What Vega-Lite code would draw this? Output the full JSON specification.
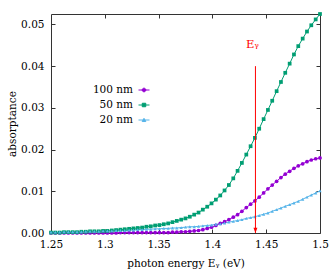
{
"$schema": "https://vega.github.io/schema/vega-lite/v6.json",
"width": 269, "height": 219,
"autosize": {"type": "none"},
"padding": {"left": 51, "top": 14, "right": 12, "bottom": 41},
"background": "white",
"config": {
  "font": "DejaVu Serif",
  "view": {"stroke": "#333", "strokeWidth": 1},
  "axis": {"grid": false, "domain": false, "tickColor": "#333", "tickWidth": 1, "tickSize": -4, "labelFont": "DejaVu Serif", "labelFontSize": 10.5, "labelColor": "#000", "labelFlush": false, "labelOverlap": false, "titleFont": "DejaVu Serif", "titleFontSize": 10.5, "titleFontWeight": "normal", "titleColor": "#000"},
  "legend": {"labelFont": "DejaVu Serif"}
},
"datasets": {
  "series": [
{"e":1.25,"s":"100 nm","a":0},{"e":1.254,"s":"100 nm","a":0},{"e":1.2581,"s":"100 nm","a":0},{"e":1.2621,"s":"100 nm","a":0},{"e":1.2661,"s":"100 nm","a":0},{"e":1.2702,"s":"100 nm","a":0},{"e":1.2742,"s":"100 nm","a":0},{"e":1.2782,"s":"100 nm","a":0},{"e":1.2823,"s":"100 nm","a":0},{"e":1.2863,"s":"100 nm","a":0},{"e":1.2903,"s":"100 nm","a":0},{"e":1.2944,"s":"100 nm","a":0},{"e":1.2984,"s":"100 nm","a":0},{"e":1.3024,"s":"100 nm","a":0},{"e":1.3065,"s":"100 nm","a":0},{"e":1.3105,"s":"100 nm","a":0},
{"e":1.3145,"s":"100 nm","a":0.0001},{"e":1.3185,"s":"100 nm","a":0.0001},{"e":1.3226,"s":"100 nm","a":0.0001},{"e":1.3266,"s":"100 nm","a":0.0001},{"e":1.3306,"s":"100 nm","a":0.0001},{"e":1.3347,"s":"100 nm","a":0.0001},{"e":1.3387,"s":"100 nm","a":0.0001},{"e":1.3427,"s":"100 nm","a":0.0001},{"e":1.3468,"s":"100 nm","a":0.0001},{"e":1.3508,"s":"100 nm","a":0.0001},{"e":1.3548,"s":"100 nm","a":0.0001},{"e":1.3589,"s":"100 nm","a":0.0001},
{"e":1.3629,"s":"100 nm","a":0.0002},{"e":1.3669,"s":"100 nm","a":0.0002},{"e":1.371,"s":"100 nm","a":0.0003},{"e":1.375,"s":"100 nm","a":0.0003},{"e":1.379,"s":"100 nm","a":0.0004},{"e":1.3831,"s":"100 nm","a":0.0005},{"e":1.3871,"s":"100 nm","a":0.0006},{"e":1.3911,"s":"100 nm","a":0.0008},{"e":1.3952,"s":"100 nm","a":0.0011},{"e":1.3992,"s":"100 nm","a":0.0014},{"e":1.4032,"s":"100 nm","a":0.0018},{"e":1.4073,"s":"100 nm","a":0.0023},{"e":1.4113,"s":"100 nm","a":0.0027},{"e":1.4153,"s":"100 nm","a":0.0032},{"e":1.4194,"s":"100 nm","a":0.0038},{"e":1.4234,"s":"100 nm","a":0.0044},{"e":1.4274,"s":"100 nm","a":0.0052},{"e":1.4315,"s":"100 nm","a":0.0061},{"e":1.4355,"s":"100 nm","a":0.0069},{"e":1.4395,"s":"100 nm","a":0.0077},{"e":1.4435,"s":"100 nm","a":0.0086},{"e":1.4476,"s":"100 nm","a":0.0096},{"e":1.4516,"s":"100 nm","a":0.0106},{"e":1.4556,"s":"100 nm","a":0.0115},{"e":1.4597,"s":"100 nm","a":0.0124},{"e":1.4637,"s":"100 nm","a":0.0133},{"e":1.4677,"s":"100 nm","a":0.0141},{"e":1.4718,"s":"100 nm","a":0.0148},{"e":1.4758,"s":"100 nm","a":0.0155},{"e":1.4798,"s":"100 nm","a":0.0161},{"e":1.4839,"s":"100 nm","a":0.0166},{"e":1.4879,"s":"100 nm","a":0.0171},{"e":1.4919,"s":"100 nm","a":0.0175},{"e":1.496,"s":"100 nm","a":0.0178},{"e":1.5,"s":"100 nm","a":0.018},
{"e":1.25,"s":"50 nm","a":0.0001},{"e":1.254,"s":"50 nm","a":0.0001},{"e":1.2581,"s":"50 nm","a":0.0001},{"e":1.2621,"s":"50 nm","a":0.0002},{"e":1.2661,"s":"50 nm","a":0.0002},{"e":1.2702,"s":"50 nm","a":0.0002},{"e":1.2742,"s":"50 nm","a":0.0002},{"e":1.2782,"s":"50 nm","a":0.0003},{"e":1.2823,"s":"50 nm","a":0.0003},{"e":1.2863,"s":"50 nm","a":0.0004},{"e":1.2903,"s":"50 nm","a":0.0004},{"e":1.2944,"s":"50 nm","a":0.0004},{"e":1.2984,"s":"50 nm","a":0.0005},{"e":1.3024,"s":"50 nm","a":0.0005},{"e":1.3065,"s":"50 nm","a":0.0006},{"e":1.3105,"s":"50 nm","a":0.0007},{"e":1.3145,"s":"50 nm","a":0.0008},{"e":1.3185,"s":"50 nm","a":0.0009},{"e":1.3226,"s":"50 nm","a":0.001},{"e":1.3266,"s":"50 nm","a":0.0011},{"e":1.3306,"s":"50 nm","a":0.0012},{"e":1.3347,"s":"50 nm","a":0.0013},{"e":1.3387,"s":"50 nm","a":0.0015},{"e":1.3427,"s":"50 nm","a":0.0016},{"e":1.3468,"s":"50 nm","a":0.0018},{"e":1.3508,"s":"50 nm","a":0.0019},{"e":1.3548,"s":"50 nm","a":0.0021},{"e":1.3589,"s":"50 nm","a":0.0023},{"e":1.3629,"s":"50 nm","a":0.0026},{"e":1.3669,"s":"50 nm","a":0.0029},{"e":1.371,"s":"50 nm","a":0.0032},{"e":1.375,"s":"50 nm","a":0.0035},{"e":1.379,"s":"50 nm","a":0.0039},{"e":1.3831,"s":"50 nm","a":0.0044},{"e":1.3871,"s":"50 nm","a":0.0049},{"e":1.3911,"s":"50 nm","a":0.0056},{"e":1.3952,"s":"50 nm","a":0.0063},{"e":1.3992,"s":"50 nm","a":0.0071},{"e":1.4032,"s":"50 nm","a":0.008},{"e":1.4073,"s":"50 nm","a":0.009},{"e":1.4113,"s":"50 nm","a":0.0102},{"e":1.4153,"s":"50 nm","a":0.0115},{"e":1.4194,"s":"50 nm","a":0.0131},{"e":1.4234,"s":"50 nm","a":0.0149},{"e":1.4274,"s":"50 nm","a":0.0168},{"e":1.4315,"s":"50 nm","a":0.0188},{"e":1.4355,"s":"50 nm","a":0.0208},{"e":1.4395,"s":"50 nm","a":0.0228},{"e":1.4435,"s":"50 nm","a":0.025},{"e":1.4476,"s":"50 nm","a":0.0273},{"e":1.4516,"s":"50 nm","a":0.0295},{"e":1.4556,"s":"50 nm","a":0.0317},{"e":1.4597,"s":"50 nm","a":0.034},{"e":1.4637,"s":"50 nm","a":0.0362},{"e":1.4677,"s":"50 nm","a":0.0384},{"e":1.4718,"s":"50 nm","a":0.0406},{"e":1.4758,"s":"50 nm","a":0.0428},{"e":1.4798,"s":"50 nm","a":0.0448},{"e":1.4839,"s":"50 nm","a":0.0466},{"e":1.4879,"s":"50 nm","a":0.0483},{"e":1.4919,"s":"50 nm","a":0.0498},{"e":1.496,"s":"50 nm","a":0.0512},{"e":1.5,"s":"50 nm","a":0.0525},
{"e":1.25,"s":"20 nm","a":0.0002},{"e":1.254,"s":"20 nm","a":0.0002},{"e":1.2581,"s":"20 nm","a":0.0002},{"e":1.2621,"s":"20 nm","a":0.0003},{"e":1.2661,"s":"20 nm","a":0.0003},{"e":1.2702,"s":"20 nm","a":0.0003},{"e":1.2742,"s":"20 nm","a":0.0003},{"e":1.2782,"s":"20 nm","a":0.0003},{"e":1.2823,"s":"20 nm","a":0.0004},{"e":1.2863,"s":"20 nm","a":0.0004},{"e":1.2903,"s":"20 nm","a":0.0004},{"e":1.2944,"s":"20 nm","a":0.0004},{"e":1.2984,"s":"20 nm","a":0.0005},{"e":1.3024,"s":"20 nm","a":0.0005},{"e":1.3065,"s":"20 nm","a":0.0005},{"e":1.3105,"s":"20 nm","a":0.0006},{"e":1.3145,"s":"20 nm","a":0.0006},{"e":1.3185,"s":"20 nm","a":0.0006},{"e":1.3226,"s":"20 nm","a":0.0007},{"e":1.3266,"s":"20 nm","a":0.0007},{"e":1.3306,"s":"20 nm","a":0.0008},{"e":1.3347,"s":"20 nm","a":0.0008},{"e":1.3387,"s":"20 nm","a":0.0009},{"e":1.3427,"s":"20 nm","a":0.0009},{"e":1.3468,"s":"20 nm","a":0.001},{"e":1.3508,"s":"20 nm","a":0.001},{"e":1.3548,"s":"20 nm","a":0.0011},{"e":1.3589,"s":"20 nm","a":0.0011},{"e":1.3629,"s":"20 nm","a":0.0012},{"e":1.3669,"s":"20 nm","a":0.0012},{"e":1.371,"s":"20 nm","a":0.0013},{"e":1.375,"s":"20 nm","a":0.0014},{"e":1.379,"s":"20 nm","a":0.0015},{"e":1.3831,"s":"20 nm","a":0.0015},{"e":1.3871,"s":"20 nm","a":0.0016},{"e":1.3911,"s":"20 nm","a":0.0017},{"e":1.3952,"s":"20 nm","a":0.0018},{"e":1.3992,"s":"20 nm","a":0.0019},{"e":1.4032,"s":"20 nm","a":0.0021},{"e":1.4073,"s":"20 nm","a":0.0022},{"e":1.4113,"s":"20 nm","a":0.0024},{"e":1.4153,"s":"20 nm","a":0.0026},{"e":1.4194,"s":"20 nm","a":0.0028},{"e":1.4234,"s":"20 nm","a":0.003},{"e":1.4274,"s":"20 nm","a":0.0032},{"e":1.4315,"s":"20 nm","a":0.0035},{"e":1.4355,"s":"20 nm","a":0.0037},{"e":1.4395,"s":"20 nm","a":0.0039},{"e":1.4435,"s":"20 nm","a":0.0042},{"e":1.4476,"s":"20 nm","a":0.0045},{"e":1.4516,"s":"20 nm","a":0.0048},{"e":1.4556,"s":"20 nm","a":0.0052},{"e":1.4597,"s":"20 nm","a":0.0056},{"e":1.4637,"s":"20 nm","a":0.006},{"e":1.4677,"s":"20 nm","a":0.0064},{"e":1.4718,"s":"20 nm","a":0.0068},{"e":1.4758,"s":"20 nm","a":0.0072},{"e":1.4798,"s":"20 nm","a":0.0076},{"e":1.4839,"s":"20 nm","a":0.0081},{"e":1.4879,"s":"20 nm","a":0.0086},{"e":1.4919,"s":"20 nm","a":0.0091},{"e":1.496,"s":"20 nm","a":0.0096},{"e":1.5,"s":"20 nm","a":0.0101}
  ],
  "note": [{"e": 1.44, "a": 0.04, "a2": 0, "label": "Eᵧ"}]
},
"resolve": {"axis": {"x": "independent", "y": "independent"}},
"layer": [
  {
    "data": {"name": "series"},
    "mark": {"type": "line", "strokeWidth": 1},
    "encoding": {
      "x": {"field": "e", "type": "quantitative", "scale": {"domain": [1.25, 1.5], "nice": false, "zero": false},
            "axis": {"orient": "bottom", "values": [1.25, 1.3, 1.35, 1.4, 1.45, 1.5], "format": "~g", "labelPadding": 10, "title": "photon energy Eᵧ (eV)", "titleY": 33, "titleBaseline": "alphabetic"}},
      "y": {"field": "a", "type": "quantitative", "scale": {"domain": [0, 0.0525], "nice": false, "zero": false},
            "axis": {"orient": "left", "values": [0, 0.01, 0.02, 0.03, 0.04, 0.05], "format": ".2f", "labelPadding": 11, "title": "absorptance", "titleX": -35.5, "titleBaseline": "alphabetic"}},
      "color": {"field": "s", "type": "nominal",
                "scale": {"domain": ["100 nm", "50 nm", "20 nm"], "range": ["#9400d3", "#009e73", "#56b4e9"]},
                "legend": {"title": null, "orient": "none", "legendX": 87, "legendY": 70, "padding": 0, "rowPadding": 3,
                           "symbolSize": 121, "symbolStrokeWidth": 1, "labelAlign": "right", "labelOffset": -17,
                           "labelFont": "DejaVu Serif", "labelFontSize": 10.5, "labelColor": "#000",
                           "encode": {"symbols": {"update": {
                             "shape": {"signal": "datum.value === '100 nm' ? 'M-1,0H1M-0.33,0A0.33,0.33 0 1,0 0.33,0A0.33,0.33 0 1,0 -0.33,0Z' : (datum.value === '50 nm' ? 'M-1,0H1M-0.32,-0.32H0.32V0.32H-0.32Z' : 'M-1,0H1M-0.33,0.28L0,-0.3L0.33,0.28Z')"},
                             "size": {"value": 121},
                             "fill": {"scale": "color", "field": "value"},
                             "stroke": {"scale": "color", "field": "value"},
                             "strokeWidth": {"value": 1},
                             "opacity": {"value": 1}
                           }}}}}
    }
  },
  {
    "data": {"name": "series"},
    "transform": [{"filter": "datum.s === '100 nm'"}],
    "mark": {"type": "point", "shape": "circle", "filled": true, "opacity": 1, "size": 14},
    "encoding": {
      "x": {"field": "e", "type": "quantitative", "scale": {"domain": [1.25, 1.5], "nice": false, "zero": false}, "axis": null},
      "y": {"field": "a", "type": "quantitative", "scale": {"domain": [0, 0.0525], "nice": false, "zero": false}, "axis": null},
      "color": {"field": "s", "type": "nominal", "legend": null}
    }
  },
  {
    "data": {"name": "series"},
    "transform": [{"filter": "datum.s === '50 nm'"}],
    "mark": {"type": "point", "shape": "square", "filled": true, "opacity": 1, "size": 14},
    "encoding": {
      "x": {"field": "e", "type": "quantitative", "axis": null},
      "y": {"field": "a", "type": "quantitative", "axis": null},
      "color": {"field": "s", "type": "nominal", "legend": null}
    }
  },
  {
    "data": {"name": "series"},
    "transform": [{"filter": "datum.s === '20 nm'"}],
    "mark": {"type": "point", "shape": "triangle-up", "filled": true, "opacity": 1, "size": 11},
    "encoding": {
      "x": {"field": "e", "type": "quantitative", "axis": null},
      "y": {"field": "a", "type": "quantitative", "axis": null},
      "color": {"field": "s", "type": "nominal", "legend": null}
    }
  },
  {
    "data": {"name": "note"},
    "mark": {"type": "rule", "color": "#ff0000", "strokeWidth": 1},
    "encoding": {
      "x": {"field": "e", "type": "quantitative",
            "axis": {"orient": "top", "values": [1.3, 1.35, 1.4, 1.45], "labels": false, "title": null}},
      "y": {"field": "a", "type": "quantitative",
            "axis": {"orient": "right", "values": [0.01, 0.02, 0.03, 0.04, 0.05], "labels": false, "title": null}},
      "y2": {"field": "a2"}
    }
  },
  {
    "data": {"name": "note"},
    "mark": {"type": "point", "shape": "M-0.5,-1.3L0,0L0.5,-1.3Z", "filled": true, "color": "#ff0000", "opacity": 1, "size": 64},
    "encoding": {
      "x": {"field": "e", "type": "quantitative", "axis": null},
      "y": {"field": "a2", "type": "quantitative", "axis": null}
    }
  },
  {
    "data": {"name": "note"},
    "mark": {"type": "text", "color": "#ff0000", "font": "DejaVu Serif", "fontSize": 11.5, "dy": -18, "dx": -3, "baseline": "alphabetic", "align": "center"},
    "encoding": {
      "x": {"field": "e", "type": "quantitative", "axis": null},
      "y": {"field": "a", "type": "quantitative", "axis": null},
      "text": {"field": "label"}
    }
  }
]
}
